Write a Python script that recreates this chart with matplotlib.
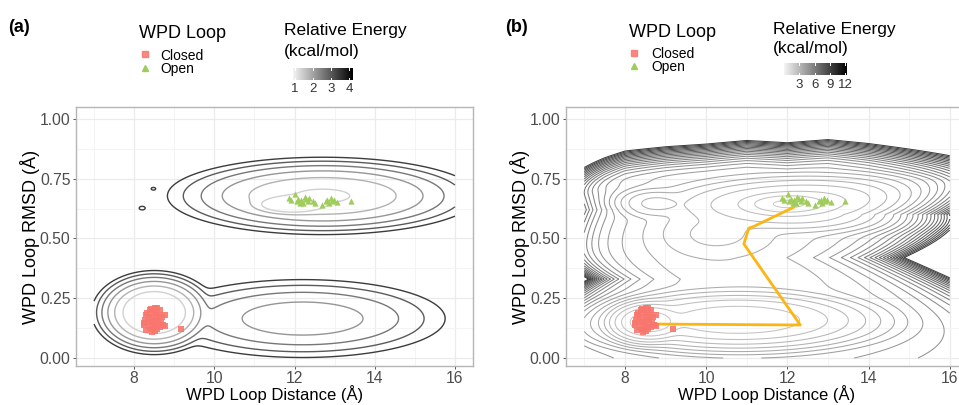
import numpy as np
import matplotlib
matplotlib.use("Agg")
import matplotlib.pyplot as plt
from matplotlib.colors import LinearSegmentedColormap, Normalize
from matplotlib.lines import Line2D

plt.rcParams['font.family'] = ['Liberation Sans', 'DejaVu Sans']

# ---------------- data ----------------
closed_x = [8.30, 8.35, 8.40, 8.45, 8.50, 8.55, 8.60, 8.65, 8.70, 8.25, 8.28, 8.38,
            8.42, 8.48, 8.52, 8.58, 8.62, 8.68, 8.72, 8.33, 8.47, 8.53, 8.57, 8.45,
            8.51, 8.24, 8.36, 8.43, 8.64, 8.76, 8.55, 8.41, 8.49, 8.58, 8.30, 8.77, 9.18]
closed_y = [0.18, 0.15, 0.20, 0.17, 0.14, 0.19, 0.16, 0.13, 0.17, 0.14, 0.16, 0.13,
            0.12, 0.19, 0.21, 0.12, 0.18, 0.15, 0.14, 0.19, 0.15, 0.16, 0.14, 0.11,
            0.115, 0.148, 0.17, 0.204, 0.20, 0.134, 0.17, 0.15, 0.13, 0.21, 0.117, 0.18, 0.12]
open_x = [11.86, 11.92, 12.01, 12.05, 12.09, 12.13, 12.17, 12.21, 12.25, 12.29, 12.33,
          12.37, 12.46, 12.52, 12.68, 12.78, 12.82, 12.86, 12.90, 12.94, 12.98, 13.07, 13.41]
open_y = [0.671, 0.660, 0.685, 0.655, 0.664, 0.647, 0.661, 0.647, 0.672, 0.664, 0.655,
          0.668, 0.657, 0.650, 0.640, 0.655, 0.661, 0.650, 0.668, 0.658, 0.661, 0.654, 0.658]

# minimum-energy path (panel b)
path_x = [8.76, 12.32, 10.93, 11.05, 11.17, 12.15]
path_y = [0.142, 0.138, 0.477, 0.543, 0.550, 0.630]

# energy landscape (a): basins (centre, widths where energy rises by 1, depth)
wa_x = [8.50, 12.20, 11.95, 12.70, 8.20, 8.48]
wa_y = [0.190, 0.165, 0.643, 0.678, 0.627, 0.708]
wa_sx = [0.78, 2.40, 0.75, 2.20, 0.12, 0.10]
wa_sy = [0.088, 0.110, 0.032, 0.092, 0.012, 0.010]
wa_d = [0.0, 1.8, 0.0, 0.9, 3.6, 3.7]
levels_a = [1.0, 1.6, 2.2, 2.8, 3.4, 4.0]
cbar_a_range = [0.9, 4.2]
cbar_a_ticks = [1, 2, 3, 4]

# energy landscape (b)
wb_x = [8.60, 10.80, 12.10, 12.80, 10.30, 8.70, 11.50]
wb_y = [0.152, 0.160, 0.643, 0.640, 0.520, 0.645, 0.450]
wb_sx = [0.72, 2.30, 1.00, 2.60, 1.60, 0.90, 4.50]
wb_sy = [0.060, 0.085, 0.040, 0.085, 0.120, 0.055, 0.400]
wb_d = [0.0, 0.55, 0.2, 0.9, 2.3, 2.2, 3.0]
# repulsive ridges (b)
bump_x = [6.80, 16.50, 16.60, 6.50]
bump_y = [0.33, 0.42, 0.60, 0.62]
bump_sx = [0.60, 1.00, 1.20, 0.50]
bump_sy = [0.05, 0.07, 0.12, 0.20]
bump_h = [12.0, 40.0, 10.0, 10.0]
# upper rim of the sampled region (b)
rim_x = [7, 7.5, 8, 9, 10, 11, 12, 13, 14, 15, 16]
rim_y = [0.82, 0.85, 0.875, 0.89, 0.90, 0.915, 0.905, 0.92, 0.905, 0.885, 0.865]
rim_depth = 0.14
rim_k = 420.0
levels_b = np.arange(0.5, 12.01, 0.5)
cbar_b_range = [0.0, 12.3]
cbar_b_ticks = [3, 6, 9, 12]

xticks = [8, 10, 12, 14, 16]
yticks = [0.0, 0.25, 0.5, 0.75, 1.0]
ytick_labels = ["0.00", "0.25", "0.50", "0.75", "1.00"]

# ---------------- helpers ----------------
KT = 0.3


def softmin(X, Y, cx, cy, sx, sy, d):
    E = np.stack([dd + ((X - a) / s1) ** 2 + ((Y - b) / s2) ** 2
                  for a, b, s1, s2, dd in zip(cx, cy, sx, sy, d)])
    G = -KT * np.log(np.sum(np.exp(-E / KT), axis=0))
    return G - G.min()


W, H = 959, 405
fig = plt.figure(figsize=(W / 100, H / 100), dpi=100)


def fx(px):
    return px / W


def fy(py):
    return 1 - py / H


line_cmap_a = LinearSegmentedColormap.from_list('la', ['#d4d4d4', '#333333'])
line_cmap_b = LinearSegmentedColormap.from_list('lb', ['#cfcfcf', '#3a3a3a'])
bar_cmap = LinearSegmentedColormap.from_list('bar', ['#f4f4f4', '#000000'])

AX_TOP, AX_BOT = 107, 366


def style_axes(ax):
    ax.set_xlim(6.55, 16.45)
    ax.set_ylim(-0.0335, 1.05)
    ax.set_xticks(xticks)
    ax.set_yticks(yticks)
    ax.set_yticklabels(ytick_labels)
    ax.set_xticks([7, 9, 11, 13, 15], minor=True)
    ax.set_yticks([0.125, 0.375, 0.625, 0.875], minor=True)
    ax.grid(which='major', color='#ebebeb', lw=0.9)
    ax.grid(which='minor', color='#f3f3f3', lw=0.6)
    ax.set_axisbelow(True)
    ax.tick_params(which='major', labelsize=11.3, colors='#555555', length=2.5, width=0.7,
                   labelcolor='#4d4d4d', pad=1.5)
    ax.tick_params(axis='x', which='major', pad=1)
    ax.tick_params(which='minor', length=0)
    for s in ax.spines.values():
        s.set_color('#b5b5b5')
        s.set_linewidth(1.0)
    ax.set_xlabel('WPD Loop Distance (Å)', fontsize=12, labelpad=-0.3)
    ax.set_ylabel('WPD Loop RMSD (Å)', fontsize=13, labelpad=0)


def legend_block(x0, title_base, m1y, m2y, t1base, t2base, tx, rx, r1base, r2base,
                 cb, vrange, ticks, tick_y, label):
    fig.text(fx(x0[0]), fy(title_base), 'WPD Loop', fontsize=13, va='baseline', ha='left')
    fig.add_artist(Line2D([fx(x0[1])], [fy(m1y)], transform=fig.transFigure, marker='s',
                          ms=4.5, color='#F8766D', ls='none', alpha=0.85))
    fig.add_artist(Line2D([fx(x0[1])], [fy(m2y)], transform=fig.transFigure, marker='^',
                          ms=5, color='#9FCC5A', ls='none'))
    fig.text(fx(tx), fy(t1base), 'Closed', fontsize=10, va='baseline')
    fig.text(fx(tx), fy(t2base), 'Open', fontsize=10, va='baseline')
    fig.text(fx(rx), fy(r1base), 'Relative Energy', fontsize=12.5, va='baseline')
    fig.text(fx(rx), fy(r2base), '(kcal/mol)', fontsize=12.5, va='baseline')
    cax = fig.add_axes([fx(cb[0]), fy(cb[3]), fx(cb[2] - cb[0]), (cb[3] - cb[1]) / H])
    grad = np.linspace(vrange[0], vrange[1], 256)[None, :]
    cax.imshow(grad, aspect='auto', cmap=bar_cmap, extent=[vrange[0], vrange[1], 0, 1],
               vmin=vrange[0], vmax=vrange[1])
    cax.set_yticks([])
    cax.set_xticks([])
    for s in cax.spines.values():
        s.set_visible(False)
    for t in ticks:
        cax.plot([t, t], [0, 0.2], color='white', lw=0.7)
        cax.plot([t, t], [0.8, 1], color='white', lw=0.7)
        xpix = cb[0] + (t - vrange[0]) / (vrange[1] - vrange[0]) * (cb[2] - cb[0])
        fig.text(fx(xpix), fy(tick_y), str(t), fontsize=9.5, ha='center', va='center',
                 color='#333333')
    fig.text(fx(label[0]), fy(label[1]), label[2], fontsize=13, fontweight='bold',
             va='center', ha='left')


# ---------------- panel (a) ----------------
xa = np.linspace(7, 16, 451)
ya = np.linspace(0, 1, 401)
XA, YA = np.meshgrid(xa, ya)
GA = softmin(XA, YA, wa_x, wa_y, wa_sx, wa_sy, wa_d)

ax1 = fig.add_axes([fx(76), fy(AX_BOT), fx(473 - 76), (AX_BOT - AX_TOP) / H])
style_axes(ax1)
ax1.contour(XA, YA, GA, levels=levels_a, cmap=line_cmap_a,
            norm=Normalize(cbar_a_range[0], cbar_a_range[1]), linewidths=1.0)
ax1.scatter(closed_x, closed_y, marker='s', s=16, color='#F8766D', alpha=0.9, lw=0, zorder=3)
ax1.scatter(open_x, open_y, marker='^', s=20, color='#9FCC5A', lw=0, zorder=3)

legend_block((139, 145), 38, 54, 68, 60, 73, 160, 284, 35, 56,
             (293, 68, 353, 80), cbar_a_range, cbar_a_ticks, 89, (8, 27, '(a)'))

# ---------------- panel (b) ----------------
xb = np.linspace(7, 16, 451)
yb = np.linspace(0, 1, 501)
XB, YB = np.meshgrid(xb, yb)
GB = softmin(XB, YB, wb_x, wb_y, wb_sx, wb_sy, wb_d)
for bx, by, bsx, bsy, bh in zip(bump_x, bump_y, bump_sx, bump_sy, bump_h):
    GB = GB + bh * np.exp(-np.abs(XB - bx) / bsx - np.abs(YB - by) / bsy)
ytop = np.interp(XB, rim_x, rim_y)
GB = GB + rim_k * np.clip(YB - (ytop - rim_depth), 0, None) ** 2

ax2 = fig.add_axes([fx(566), fy(AX_BOT), fx(968 - 566), (AX_BOT - AX_TOP) / H])
style_axes(ax2)
ax2.contour(XB, YB, GB, levels=levels_b, cmap=line_cmap_b,
            norm=Normalize(cbar_b_range[0], cbar_b_range[1]), linewidths=0.75)
ax2.plot(path_x, path_y, color='#FBB612', lw=2.0, zorder=4, solid_joinstyle='round')
ax2.scatter(closed_x, closed_y, marker='s', s=16, color='#F8766D', alpha=0.9, lw=0, zorder=5)
ax2.scatter(open_x, open_y, marker='^', s=20, color='#9FCC5A', lw=0, zorder=5)

legend_block((629, 634), 37, 53, 66, 58, 71, 651, 773, 34, 53,
             (784, 63, 847, 75), cbar_b_range, cbar_b_ticks, 85, (505, 27, '(b)'))

fig.savefig('out.png', dpi=100)
